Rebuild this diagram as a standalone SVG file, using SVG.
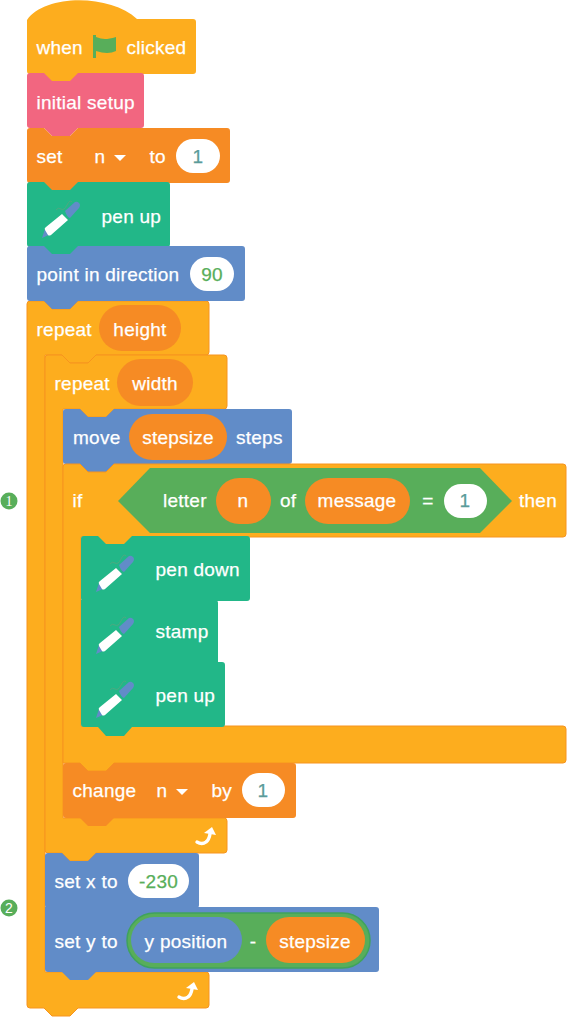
<svg xmlns="http://www.w3.org/2000/svg" xmlns:xlink="http://www.w3.org/1999/xlink" width="567" height="1018" viewBox="0 0 567 1018">
<style>
text{font-family:"Liberation Sans",Arial,sans-serif;font-size:19px;letter-spacing:.25px;fill:#fff;stroke:#fff;stroke-width:.25}
.c{text-anchor:middle}
.v{fill:#58AE5A;stroke:#58AE5A}
.n{fill:#5A9C9A;stroke:#5A9C9A}
.yl{fill:#FDAD1E;stroke:#F7941E;stroke-width:1}
.or{fill:#F68B24}
.pk{fill:#F26680}
.tl{fill:#22B788}
.bl{fill:#618CC8}
.gr{fill:#58AE5A}
.wh{fill:#fff}
</style>
<defs>
<g id="pen">
<path d="M0 0l3-9 6 5z" fill="#618CC8"/>
<path d="M3-8q-1-2 1-3L20-24l6 6L9-3q-2 1-3 0z" fill="#fff"/>
<path d="M23-27L33-36q2-1 4 1t0 5L28-20q-3-1-5-7z" fill="#618CC8"/>
<path d="M14-28q2-3 5-1t6-4t5-3" fill="none" stroke="#5FA37C" stroke-width=".7"/>
</g>
<g id="loop">
<path d="M0 0q5 3 9 0q3-2 4-8" fill="none" stroke="#fff" stroke-width="3.400" stroke-linecap="round"/>
<path d="M7-9l8-6 4 8z" fill="#fff"/>
</g>
<path id="tri" d="M0 0h12l-6 6z" fill="#fff"/>
</defs>

<g id="repeat-height">
<path class="yl" d="M27 304q0-3 3-3h14l8 8h18l8-8H206q3 0 3 3V352q0 3-3 3H96l-8 8h-18l-8-8H45V972H206q3 0 3 3V1005q0 3-3 3H78l-8 8h-18l-8-8H30q-3 0-3-3z"/>
<text x="36.500" y="336">repeat</text>
<rect class="or" x="99" y="305" width="82" height="46" rx="23"/>
<text class="c" x="140" y="336">height</text>
<use xlink:href="#loop" href="#loop" x="179" y="997"/>
</g>

<g id="repeat-width">
<path class="yl" d="M45 358q0-3 3-3h14l8 8h18l8-8H224q3 0 3 3V406q0 3-3 3H114l-8 8h-18l-8-8H63V818H224q3 0 3 3V850q0 3-3 3H96l-8 8h-18l-8-8H48q-3 0-3-3z"/>
<text x="54.500" y="390">repeat</text>
<rect class="or" x="117" y="359" width="76" height="47" rx="23.500"/>
<text class="c" x="155" y="390">width</text>
<use xlink:href="#loop" href="#loop" x="197" y="842"/>
</g>

<g id="when-clicked">
<path style="fill:#FDAD1E" d="M27 71V20C45-6 110-6 137 19H193q3 0 3 3V71q0 3-3 3H78l-8 8h-18l-8-8H30q-3 0-3-3z"/>
<text x="36.500" y="54">when</text>
<path class="gr" d="M93 35h3v2q5 2 9 2t11-2v14q-4 2-9 2t-11-2v7h-3z"/>
<text x="126.500" y="54">clicked</text>
</g>

<g id="initial-setup">
<path class="pk" d="M27 76q0-3 3-3h14l8 8h18l8-8H141q3 0 3 3V125q0 3-3 3H78l-8 8h-18l-8-8H30q-3 0-3-3z"/>
<text x="36.500" y="109">initial setup</text>
</g>

<g id="set-n">
<path class="or" d="M27 131q0-3 3-3h14l8 8h18l8-8H227q3 0 3 3V180q0 3-3 3H78l-8 8h-18l-8-8H30q-3 0-3-3z"/>
<text x="36.500" y="163">set</text>
<text x="94.500" y="163">n</text>
<use xlink:href="#tri" href="#tri" x="114" y="155"/>
<text x="149.500" y="163">to</text>
<rect class="wh" x="176" y="139" width="44" height="34" rx="17"/>
<text class="c n" x="198" y="163">1</text>
</g>

<g id="pen-up-1">
<path class="tl" d="M27 185q0-3 3-3h14l8 8h18l8-8H167q3 0 3 3V244q0 3-3 3H78l-8 8h-18l-8-8H30q-3 0-3-3z"/>
<use xlink:href="#pen" href="#pen" x="42" y="238"/>
<text x="101.500" y="223">pen up</text>
</g>

<g id="point-direction">
<path class="bl" d="M27 249q0-3 3-3h14l8 8h18l8-8H242q3 0 3 3V298q0 3-3 3H78l-8 8h-18l-8-8H30q-3 0-3-3z"/>
<text x="36.500" y="281">point in direction</text>
<rect class="wh" x="190" y="257" width="44" height="34" rx="17"/>
<text class="c v" x="212" y="281">90</text>
</g>

<g id="move-steps">
<path class="bl" d="M63 412q0-3 3-3h14l8 8h18l8-8H289q3 0 3 3V461q0 3-3 3H114l-8 8h-18l-8-8H66q-3 0-3-3z"/>
<text x="73" y="444">move</text>
<rect class="or" x="129" y="414" width="98" height="46" rx="23"/>
<text class="c" x="178" y="444">stepsize</text>
<text x="236" y="444">steps</text>
</g>

<g id="if-then">
<path class="yl" d="M63 467q0-3 3-3h14l8 8h18l8-8H563q3 0 3 3V534q0 3-3 3H132l-8 8h-18l-8-8H81V726H563q3 0 3 3V760q0 3-3 3H114l-8 8h-18l-8-8H63z"/>
<text x="72.500" y="507">if</text>
<path class="gr" d="M118 501l32-33H480l32 33-32 32H150z"/>
<text x="163" y="507">letter</text>
<rect class="or" x="216" y="478" width="55" height="46" rx="23"/>
<text class="c" x="243" y="507">n</text>
<text x="280" y="507">of</text>
<rect class="or" x="305" y="478" width="105" height="46" rx="23"/>
<text class="c" x="357" y="507">message</text>
<text class="c" x="428" y="507">=</text>
<rect class="wh" x="444" y="484" width="43" height="34" rx="17"/>
<text class="c n" x="465" y="507">1</text>
<text x="519" y="507">then</text>
</g>

<g id="pen-down">
<path class="tl" d="M81 539q0-3 3-3h14l8 8h18l8-8H247q3 0 3 3V598q0 3-3 3H84q-3 0-3-3z"/>
<use xlink:href="#pen" href="#pen" x="96" y="592"/>
<text x="155.500" y="576">pen down</text>
</g>

<g id="stamp">
<path class="tl" d="M81 600H215q3 0 3 3V663H81z"/>
<use xlink:href="#pen" href="#pen" x="96" y="654"/>
<text x="155.500" y="638">stamp</text>
</g>

<g id="pen-up-2">
<path class="tl" d="M81 662H222q3 0 3 3V724q0 3-3 3H132l-8 9h-18l-8-9H84q-3 0-3-3z"/>
<use xlink:href="#pen" href="#pen" x="96" y="718"/>
<text x="155.500" y="702">pen up</text>
</g>

<g id="change-n">
<path class="or" d="M63 766q0-3 3-3h14l8 8h18l8-8H293q3 0 3 3V815q0 3-3 3H114l-8 8h-18l-8-8H66q-3 0-3-3z"/>
<text x="72.500" y="797">change</text>
<text x="156.500" y="797">n</text>
<use xlink:href="#tri" href="#tri" x="176" y="789"/>
<text x="211.500" y="797">by</text>
<rect class="wh" x="242" y="773" width="43" height="34" rx="17"/>
<text class="c n" x="263" y="797">1</text>
</g>

<g id="set-x">
<path class="bl" d="M45 856q0-3 3-3h14l8 8h18l8-8H196q3 0 3 3V905q0 3-3 3H48q-3 0-3-3z"/>
<text x="54.500" y="888">set x to</text>
<rect class="wh" x="128" y="864" width="61" height="34" rx="17"/>
<text class="c v" x="158.500" y="888">-230</text>
</g>

<g id="set-y">
<path class="bl" d="M45 907H376q3 0 3 3V969q0 3-3 3H96l-8 8h-18l-8-8H48q-3 0-3-3z"/>
<text x="54.500" y="948">set y to</text>
<rect class="gr" x="127" y="913" width="243" height="55" rx="27.500" stroke="#3FA35C" stroke-width="1.500"/>
<rect class="bl" x="131" y="917" width="111" height="46" rx="23"/>
<text class="c" x="186" y="948">y position</text>
<text class="c" x="253" y="948">-</text>
<rect class="or" x="266" y="917" width="99" height="46" rx="23"/>
<text class="c" x="315" y="948">stepsize</text>
</g>

<g id="marker-1">
<circle class="gr" cx="9" cy="501" r="8.500"/>
<text class="c" x="9" y="506" style="font-family:'Liberation Serif',serif;font-size:14px;stroke:none">1</text>
</g>
<g id="marker-2">
<circle class="gr" cx="9" cy="908" r="8.500"/>
<text class="c" x="9" y="913" style="font-size:14px;stroke:none">2</text>
</g>
</svg>
